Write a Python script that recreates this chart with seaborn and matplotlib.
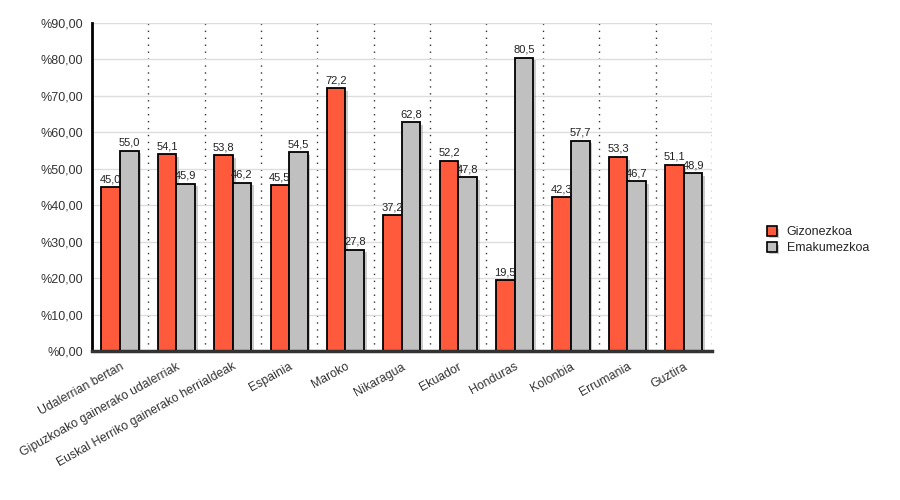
import pandas as pd
import matplotlib
matplotlib.use("Agg")
import matplotlib.pyplot as plt
import matplotlib.patheffects as pe
from matplotlib.ticker import FuncFormatter
import seaborn as sns

categories = ["Udalerrian bertan", "Gipuzkoako gainerako udalerriak",
              "Euskal Herriko gainerako herrialdeak", "Espainia", "Maroko",
              "Nikaragua", "Ekuador", "Honduras", "Kolonbia", "Errumania", "Guztira"]
gizonezkoa = [45.0, 54.1, 53.8, 45.5, 72.2, 37.2, 52.2, 19.5, 42.3, 53.3, 51.1]
emakumezkoa = [55.0, 45.9, 46.2, 54.5, 27.8, 62.8, 47.8, 80.5, 57.7, 46.7, 48.9]
series = ["Gizonezkoa", "Emakumezkoa"]
colors = ["#FF5A3C", "#C0C0C0"]

df = pd.DataFrame({
    "cat": categories * 2,
    "val": gizonezkoa + emakumezkoa,
    "sex": [series[0]] * len(categories) + [series[1]] * len(categories),
})

sns.set_style("white")
plt.rcParams["font.family"] = ["Liberation Sans", "DejaVu Sans"]

fig = plt.figure(figsize=(9, 5), dpi=100)
ax = fig.add_axes([0.102, 0.298, 0.689, 0.656])

sns.barplot(data=df, x="cat", y="val", hue="sex", palette=colors, width=0.66,
            edgecolor="black", linewidth=1.3, saturation=1, ax=ax, legend=True)

shadow = [pe.SimplePatchShadow(offset=(2, -2), shadow_rgbFace="#999999", alpha=0.5), pe.Normal()]
for p in ax.patches:
    p.set_path_effects(shadow)

for cont in ax.containers:
    ax.bar_label(cont, labels=[f"{v:.1f}".replace(".", ",") for v in cont.datavalues],
                 fontsize=8, padding=2, color="#222222")

ax.set_ylim(0, 90)
ax.set_xlim(-0.5, len(categories) - 0.5)
ax.set_yticks(range(0, 91, 10))
ax.yaxis.set_major_formatter(FuncFormatter(lambda v, _: f"%{v:.2f}".replace(".", ",")))
ax.grid(axis="y", color="#dddddd", linewidth=1)
ax.set_axisbelow(True)
for x in range(len(categories)):
    ax.axvline(x + 0.5, color="#333333", linestyle=(0, (1, 4)), linewidth=1, zorder=0.5)

ax.set_xlabel("")
ax.set_ylabel("")
ax.tick_params(axis="y", labelsize=9, colors="#333333", length=0, pad=6)
ax.tick_params(axis="x", labelsize=8.8, colors="#333333", length=0, pad=7)
plt.setp(ax.get_xticklabels(), rotation=29, ha="right", rotation_mode="anchor")
for lab in ax.get_xticklabels() + ax.get_yticklabels():
    lab.set_color("#333333")

for s in ["top", "right"]:
    ax.spines[s].set_visible(False)
ax.spines["left"].set_linewidth(2)
ax.spines["left"].set_color("black")
ax.spines["bottom"].set_linewidth(2.5)
ax.spines["bottom"].set_color("#333333")

leg = ax.legend(loc="center left", bbox_to_anchor=(1.07, 0.338), frameon=False,
                fontsize=9, handlelength=0.8, handleheight=0.8, handletextpad=0.8,
                labelspacing=0.3)
for h in leg.legend_handles:
    h.set_edgecolor("black")
    h.set_linewidth(1.2)

fig.savefig("out.png", dpi=100)
